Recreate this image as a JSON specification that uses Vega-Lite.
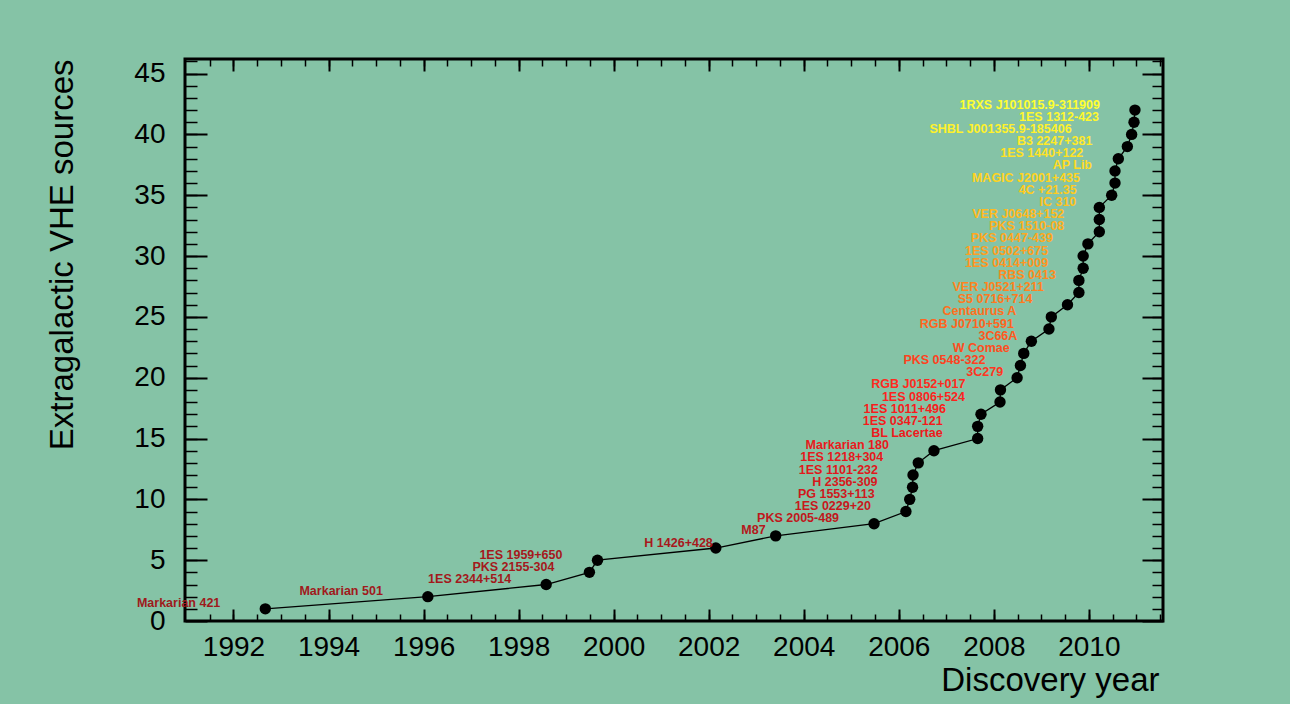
{
  "$schema": "https://vega.github.io/schema/vega-lite/v6.json",
  "width": 978,
  "height": 562,
  "autosize": {"type": "none"},
  "padding": {"left": 185, "top": 59, "right": 127, "bottom": 83},
  "background": "#85C3A6",
  "config": {
    "view": {"stroke": "#000", "strokeWidth": 3, "fill": null},
    "font": "Liberation Sans",
    "axis": {"grid": false, "domain": false, "labelFont": "Liberation Sans", "titleFont": "Liberation Sans", "tickColor": "#000", "labelColor": "#000", "titleColor": "#000"}
  },
  "data": {"values": [
    {"name": "Markarian 421", "year": 1992.67, "count": 1},
    {"name": "Markarian 501", "year": 1996.09, "count": 2},
    {"name": "1ES 2344+514", "year": 1998.58, "count": 3},
    {"name": "PKS 2155-304", "year": 1999.49, "count": 4},
    {"name": "1ES 1959+650", "year": 1999.66, "count": 5},
    {"name": "H 1426+428", "year": 2002.15, "count": 6},
    {"name": "M87", "year": 2003.41, "count": 7},
    {"name": "PKS 2005-489", "year": 2005.48, "count": 8},
    {"name": "1ES 0229+20", "year": 2006.15, "count": 9},
    {"name": "PG 1553+113", "year": 2006.23, "count": 10},
    {"name": "H 2356-309", "year": 2006.29, "count": 11},
    {"name": "1ES 1101-232", "year": 2006.30, "count": 12},
    {"name": "1ES 1218+304", "year": 2006.41, "count": 13},
    {"name": "Markarian 180", "year": 2006.74, "count": 14},
    {"name": "BL Lacertae", "year": 2007.66, "count": 15},
    {"name": "1ES 0347-121", "year": 2007.66, "count": 16},
    {"name": "1ES 1011+496", "year": 2007.73, "count": 17},
    {"name": "1ES 0806+524", "year": 2008.13, "count": 18},
    {"name": "RGB J0152+017", "year": 2008.14, "count": 19},
    {"name": "3C279", "year": 2008.49, "count": 20},
    {"name": "PKS 0548-322", "year": 2008.56, "count": 21},
    {"name": "W Comae", "year": 2008.63, "count": 22},
    {"name": "3C66A", "year": 2008.79, "count": 23},
    {"name": "RGB J0710+591", "year": 2009.16, "count": 24},
    {"name": "Centaurus A", "year": 2009.21, "count": 25},
    {"name": "S5 0716+714", "year": 2009.55, "count": 26},
    {"name": "VER J0521+211", "year": 2009.79, "count": 27},
    {"name": "RBS 0413", "year": 2009.79, "count": 28},
    {"name": "1ES 0414+009", "year": 2009.88, "count": 29},
    {"name": "1ES 0502+675", "year": 2009.88, "count": 30},
    {"name": "PKS 0447-439", "year": 2009.98, "count": 31},
    {"name": "PKS 1510-08", "year": 2010.22, "count": 32},
    {"name": "VER J0648+152", "year": 2010.22, "count": 33},
    {"name": "IC 310", "year": 2010.22, "count": 34},
    {"name": "4C +21.35", "year": 2010.48, "count": 35},
    {"name": "MAGIC J2001+435", "year": 2010.55, "count": 36},
    {"name": "AP Lib", "year": 2010.55, "count": 37},
    {"name": "1ES 1440+122", "year": 2010.62, "count": 38},
    {"name": "B3 2247+381", "year": 2010.81, "count": 39},
    {"name": "SHBL J001355.9-185406", "year": 2010.90, "count": 40},
    {"name": "1ES 1312-423", "year": 2010.95, "count": 41},
    {"name": "1RXS J101015.9-311909", "year": 2010.97, "count": 42}
  ]},
  "resolve": {"axis": {"x": "independent", "y": "independent"}},
  "layer": [
    {
      "mark": {"type": "line", "color": "#000", "strokeWidth": 1.3},
      "encoding": {
        "x": {"field": "year", "type": "quantitative", "scale": {"domain": [1990.98, 2011.56], "nice": false, "zero": false},
          "axis": {"orient": "bottom", "values": [1992, 1994, 1996, 1998, 2000, 2002, 2004, 2006, 2008, 2010], "format": "d", "ticks": false, "tickSize": 0, "labelFontSize": 28, "labelPadding": 12, "labelFlush": false, "labelOverlap": false,
            "title": "Discovery year", "titleFontSize": 33, "titleFontWeight": "normal", "titleAnchor": "end", "titleAlign": "right", "titleX": 974, "titleY": 69, "titleBaseline": "alphabetic"}},
        "y": {"field": "count", "type": "quantitative", "scale": {"domain": [0, 46.2], "nice": false},
          "axis": {"orient": "left", "values": [0, 5, 10, 15, 20, 25, 30, 35, 40, 45], "format": "d", "ticks": false, "tickSize": 0, "labelFontSize": 28, "labelPadding": 20, "labelOverlap": false, "labelFlush": false,
            "title": "Extragalactic VHE sources", "titleFontSize": 33, "titleFontWeight": "normal", "titleAngle": -90, "titleAlign": "right", "titleX": -113, "titleY": 0, "titleBaseline": "alphabetic"}},
        "order": {"field": "count", "type": "quantitative"}
      }
    },
    {
      "mark": {"type": "point", "filled": true, "color": "#000", "size": 130, "opacity": 1},
      "encoding": {
        "x": {"field": "year", "type": "quantitative", "scale": {"domain": [1990.98, 2011.56], "nice": false, "zero": false},
          "axis": {"orient": "bottom", "labels": false, "title": null, "values": [1992, 1994, 1996, 1998, 2000, 2002, 2004, 2006, 2008, 2010], "tickSize": -12, "tickWidth": 2}},
        "y": {"field": "count", "type": "quantitative", "scale": {"domain": [0, 46.2], "nice": false},
          "axis": {"orient": "left", "labels": false, "title": null, "values": [0, 5, 10, 15, 20, 25, 30, 35, 40, 45], "tickSize": -22, "tickWidth": 2}}
      }
    },
    {
      "transform": [{"filter": {"not": {"field": "name", "oneOf": ["Markarian 421", "Markarian 501", "Markarian 180", "AP Lib", "RBS 0413", "IC 310", "3C66A", "W Comae", "3C279", "M87", "H 1426+428", "SHBL J001355.9-185406"]}}}],
      "mark": {"type": "text", "align": "right", "baseline": "alphabetic", "dx": -35, "dy": -1.5, "font": "Liberation Sans", "fontWeight": "bold", "fontSize": 12.5},
      "encoding": {
        "x": {"field": "year", "type": "quantitative", "scale": {"domain": [1990.98, 2011.56], "nice": false, "zero": false},
          "axis": {"orient": "bottom", "labels": false, "title": null, "values": [1991.5, 1992, 1992.5, 1993, 1993.5, 1994, 1994.5, 1995, 1995.5, 1996, 1996.5, 1997, 1997.5, 1998, 1998.5, 1999, 1999.5, 2000, 2000.5, 2001, 2001.5, 2002, 2002.5, 2003, 2003.5, 2004, 2004.5, 2005, 2005.5, 2006, 2006.5, 2007, 2007.5, 2008, 2008.5, 2009, 2009.5, 2010, 2010.5, 2011, 2011.5], "tickSize": -7, "tickWidth": 1.5}},
        "y": {"field": "count", "type": "quantitative", "scale": {"domain": [0, 46.2], "nice": false},
          "axis": {"orient": "left", "labels": false, "title": null, "values": [1, 2, 3, 4, 5, 6, 7, 8, 9, 10, 11, 12, 13, 14, 15, 16, 17, 18, 19, 20, 21, 22, 23, 24, 25, 26, 27, 28, 29, 30, 31, 32, 33, 34, 35, 36, 37, 38, 39, 40, 41, 42, 43, 44, 45, 46], "tickSize": -12, "tickWidth": 1.5}},
        "text": {"field": "name"},
        "color": {"field": "count", "type": "quantitative", "legend": null, "scale": {"domain": [1, 6, 8, 12, 17, 19, 25, 31, 36, 42], "range": ["#9E1A1C", "#A8181C", "#C0181C", "#E0181C", "#F81C1C", "#FF2A20", "#FF7020", "#FFA820", "#FFD420", "#FFFF30"], "interpolate": "rgb"}}
      }
    },
    {
      "transform": [{"filter": {"field": "name", "oneOf": ["Markarian 421", "Markarian 501", "Markarian 180"]}}],
      "mark": {"type": "text", "align": "right", "baseline": "alphabetic", "dx": -45, "dy": -1.5, "font": "Liberation Sans", "fontWeight": "bold", "fontSize": 12.5},
      "encoding": {
        "x": {"field": "year", "type": "quantitative", "scale": {"domain": [1990.98, 2011.56], "nice": false, "zero": false},
          "axis": {"orient": "top", "labels": false, "title": null, "values": [1992, 1994, 1996, 1998, 2000, 2002, 2004, 2006, 2008, 2010], "tickSize": -12, "tickWidth": 2}},
        "y": {"field": "count", "type": "quantitative", "scale": {"domain": [0, 46.2], "nice": false},
          "axis": {"orient": "right", "labels": false, "title": null, "values": [0, 5, 10, 15, 20, 25, 30, 35, 40, 45], "tickSize": -21, "tickWidth": 2}},
        "text": {"field": "name"},
        "color": {"field": "count", "type": "quantitative", "legend": null, "scale": {"domain": [1, 6, 8, 12, 17, 19, 25, 31, 36, 42], "range": ["#9E1A1C", "#A8181C", "#C0181C", "#E0181C", "#F81C1C", "#FF2A20", "#FF7020", "#FFA820", "#FFD420", "#FFFF30"], "interpolate": "rgb"}}
      }
    },
    {
      "transform": [{"filter": {"field": "name", "oneOf": ["AP Lib", "RBS 0413", "IC 310"]}}],
      "mark": {"type": "text", "align": "right", "baseline": "alphabetic", "dx": -23, "dy": -1.5, "font": "Liberation Sans", "fontWeight": "bold", "fontSize": 12.5},
      "encoding": {
        "x": {"field": "year", "type": "quantitative", "scale": {"domain": [1990.98, 2011.56], "nice": false, "zero": false},
          "axis": {"orient": "top", "labels": false, "title": null, "values": [1991.5, 1992, 1992.5, 1993, 1993.5, 1994, 1994.5, 1995, 1995.5, 1996, 1996.5, 1997, 1997.5, 1998, 1998.5, 1999, 1999.5, 2000, 2000.5, 2001, 2001.5, 2002, 2002.5, 2003, 2003.5, 2004, 2004.5, 2005, 2005.5, 2006, 2006.5, 2007, 2007.5, 2008, 2008.5, 2009, 2009.5, 2010, 2010.5, 2011, 2011.5], "tickSize": -7, "tickWidth": 1.5}},
        "y": {"field": "count", "type": "quantitative", "scale": {"domain": [0, 46.2], "nice": false},
          "axis": {"orient": "right", "labels": false, "title": null, "values": [1, 2, 3, 4, 5, 6, 7, 8, 9, 10, 11, 12, 13, 14, 15, 16, 17, 18, 19, 20, 21, 22, 23, 24, 25, 26, 27, 28, 29, 30, 31, 32, 33, 34, 35, 36, 37, 38, 39, 40, 41, 42, 43, 44, 45, 46], "tickSize": -11, "tickWidth": 1.5}},
        "text": {"field": "name"},
        "color": {"field": "count", "type": "quantitative", "legend": null, "scale": {"domain": [1, 6, 8, 12, 17, 19, 25, 31, 36, 42], "range": ["#9E1A1C", "#A8181C", "#C0181C", "#E0181C", "#F81C1C", "#FF2A20", "#FF7020", "#FFA820", "#FFD420", "#FFFF30"], "interpolate": "rgb"}}
      }
    },
    {
      "transform": [{"filter": {"field": "name", "oneOf": ["3C66A", "W Comae", "3C279"]}}],
      "mark": {"type": "text", "align": "right", "baseline": "alphabetic", "dx": -14, "dy": -1.5, "font": "Liberation Sans", "fontWeight": "bold", "fontSize": 12.5},
      "encoding": {
        "x": {"field": "year", "type": "quantitative", "scale": {"domain": [1990.98, 2011.56], "nice": false, "zero": false}, "axis": null},
        "y": {"field": "count", "type": "quantitative", "scale": {"domain": [0, 46.2], "nice": false}, "axis": null},
        "text": {"field": "name"},
        "color": {"field": "count", "type": "quantitative", "legend": null, "scale": {"domain": [1, 6, 8, 12, 17, 19, 25, 31, 36, 42], "range": ["#9E1A1C", "#A8181C", "#C0181C", "#E0181C", "#F81C1C", "#FF2A20", "#FF7020", "#FFA820", "#FFD420", "#FFFF30"], "interpolate": "rgb"}}
      }
    },
    {
      "transform": [{"filter": {"field": "name", "equal": "M87"}}],
      "mark": {"type": "text", "align": "right", "baseline": "alphabetic", "dx": -10, "dy": -1.5, "font": "Liberation Sans", "fontWeight": "bold", "fontSize": 12.5},
      "encoding": {
        "x": {"field": "year", "type": "quantitative", "scale": {"domain": [1990.98, 2011.56], "nice": false, "zero": false}, "axis": null},
        "y": {"field": "count", "type": "quantitative", "scale": {"domain": [0, 46.2], "nice": false}, "axis": null},
        "text": {"field": "name"},
        "color": {"field": "count", "type": "quantitative", "legend": null, "scale": {"domain": [1, 6, 8, 12, 17, 19, 25, 31, 36, 42], "range": ["#9E1A1C", "#A8181C", "#C0181C", "#E0181C", "#F81C1C", "#FF2A20", "#FF7020", "#FFA820", "#FFD420", "#FFFF30"], "interpolate": "rgb"}}
      }
    },
    {
      "transform": [{"filter": {"field": "name", "equal": "H 1426+428"}}],
      "mark": {"type": "text", "align": "right", "baseline": "alphabetic", "dx": -3, "dy": -1.5, "font": "Liberation Sans", "fontWeight": "bold", "fontSize": 12.5},
      "encoding": {
        "x": {"field": "year", "type": "quantitative", "scale": {"domain": [1990.98, 2011.56], "nice": false, "zero": false}, "axis": null},
        "y": {"field": "count", "type": "quantitative", "scale": {"domain": [0, 46.2], "nice": false}, "axis": null},
        "text": {"field": "name"},
        "color": {"field": "count", "type": "quantitative", "legend": null, "scale": {"domain": [1, 6, 8, 12, 17, 19, 25, 31, 36, 42], "range": ["#9E1A1C", "#A8181C", "#C0181C", "#E0181C", "#F81C1C", "#FF2A20", "#FF7020", "#FFA820", "#FFD420", "#FFFF30"], "interpolate": "rgb"}}
      }
    },
    {
      "transform": [{"filter": {"field": "name", "equal": "SHBL J001355.9-185406"}}],
      "mark": {"type": "text", "align": "right", "baseline": "alphabetic", "dx": -60, "dy": -1.5, "font": "Liberation Sans", "fontWeight": "bold", "fontSize": 12.5},
      "encoding": {
        "x": {"field": "year", "type": "quantitative", "scale": {"domain": [1990.98, 2011.56], "nice": false, "zero": false}, "axis": null},
        "y": {"field": "count", "type": "quantitative", "scale": {"domain": [0, 46.2], "nice": false}, "axis": null},
        "text": {"field": "name"},
        "color": {"field": "count", "type": "quantitative", "legend": null, "scale": {"domain": [1, 6, 8, 12, 17, 19, 25, 31, 36, 42], "range": ["#9E1A1C", "#A8181C", "#C0181C", "#E0181C", "#F81C1C", "#FF2A20", "#FF7020", "#FFA820", "#FFD420", "#FFFF30"], "interpolate": "rgb"}}
      }
    }
  ]
}
